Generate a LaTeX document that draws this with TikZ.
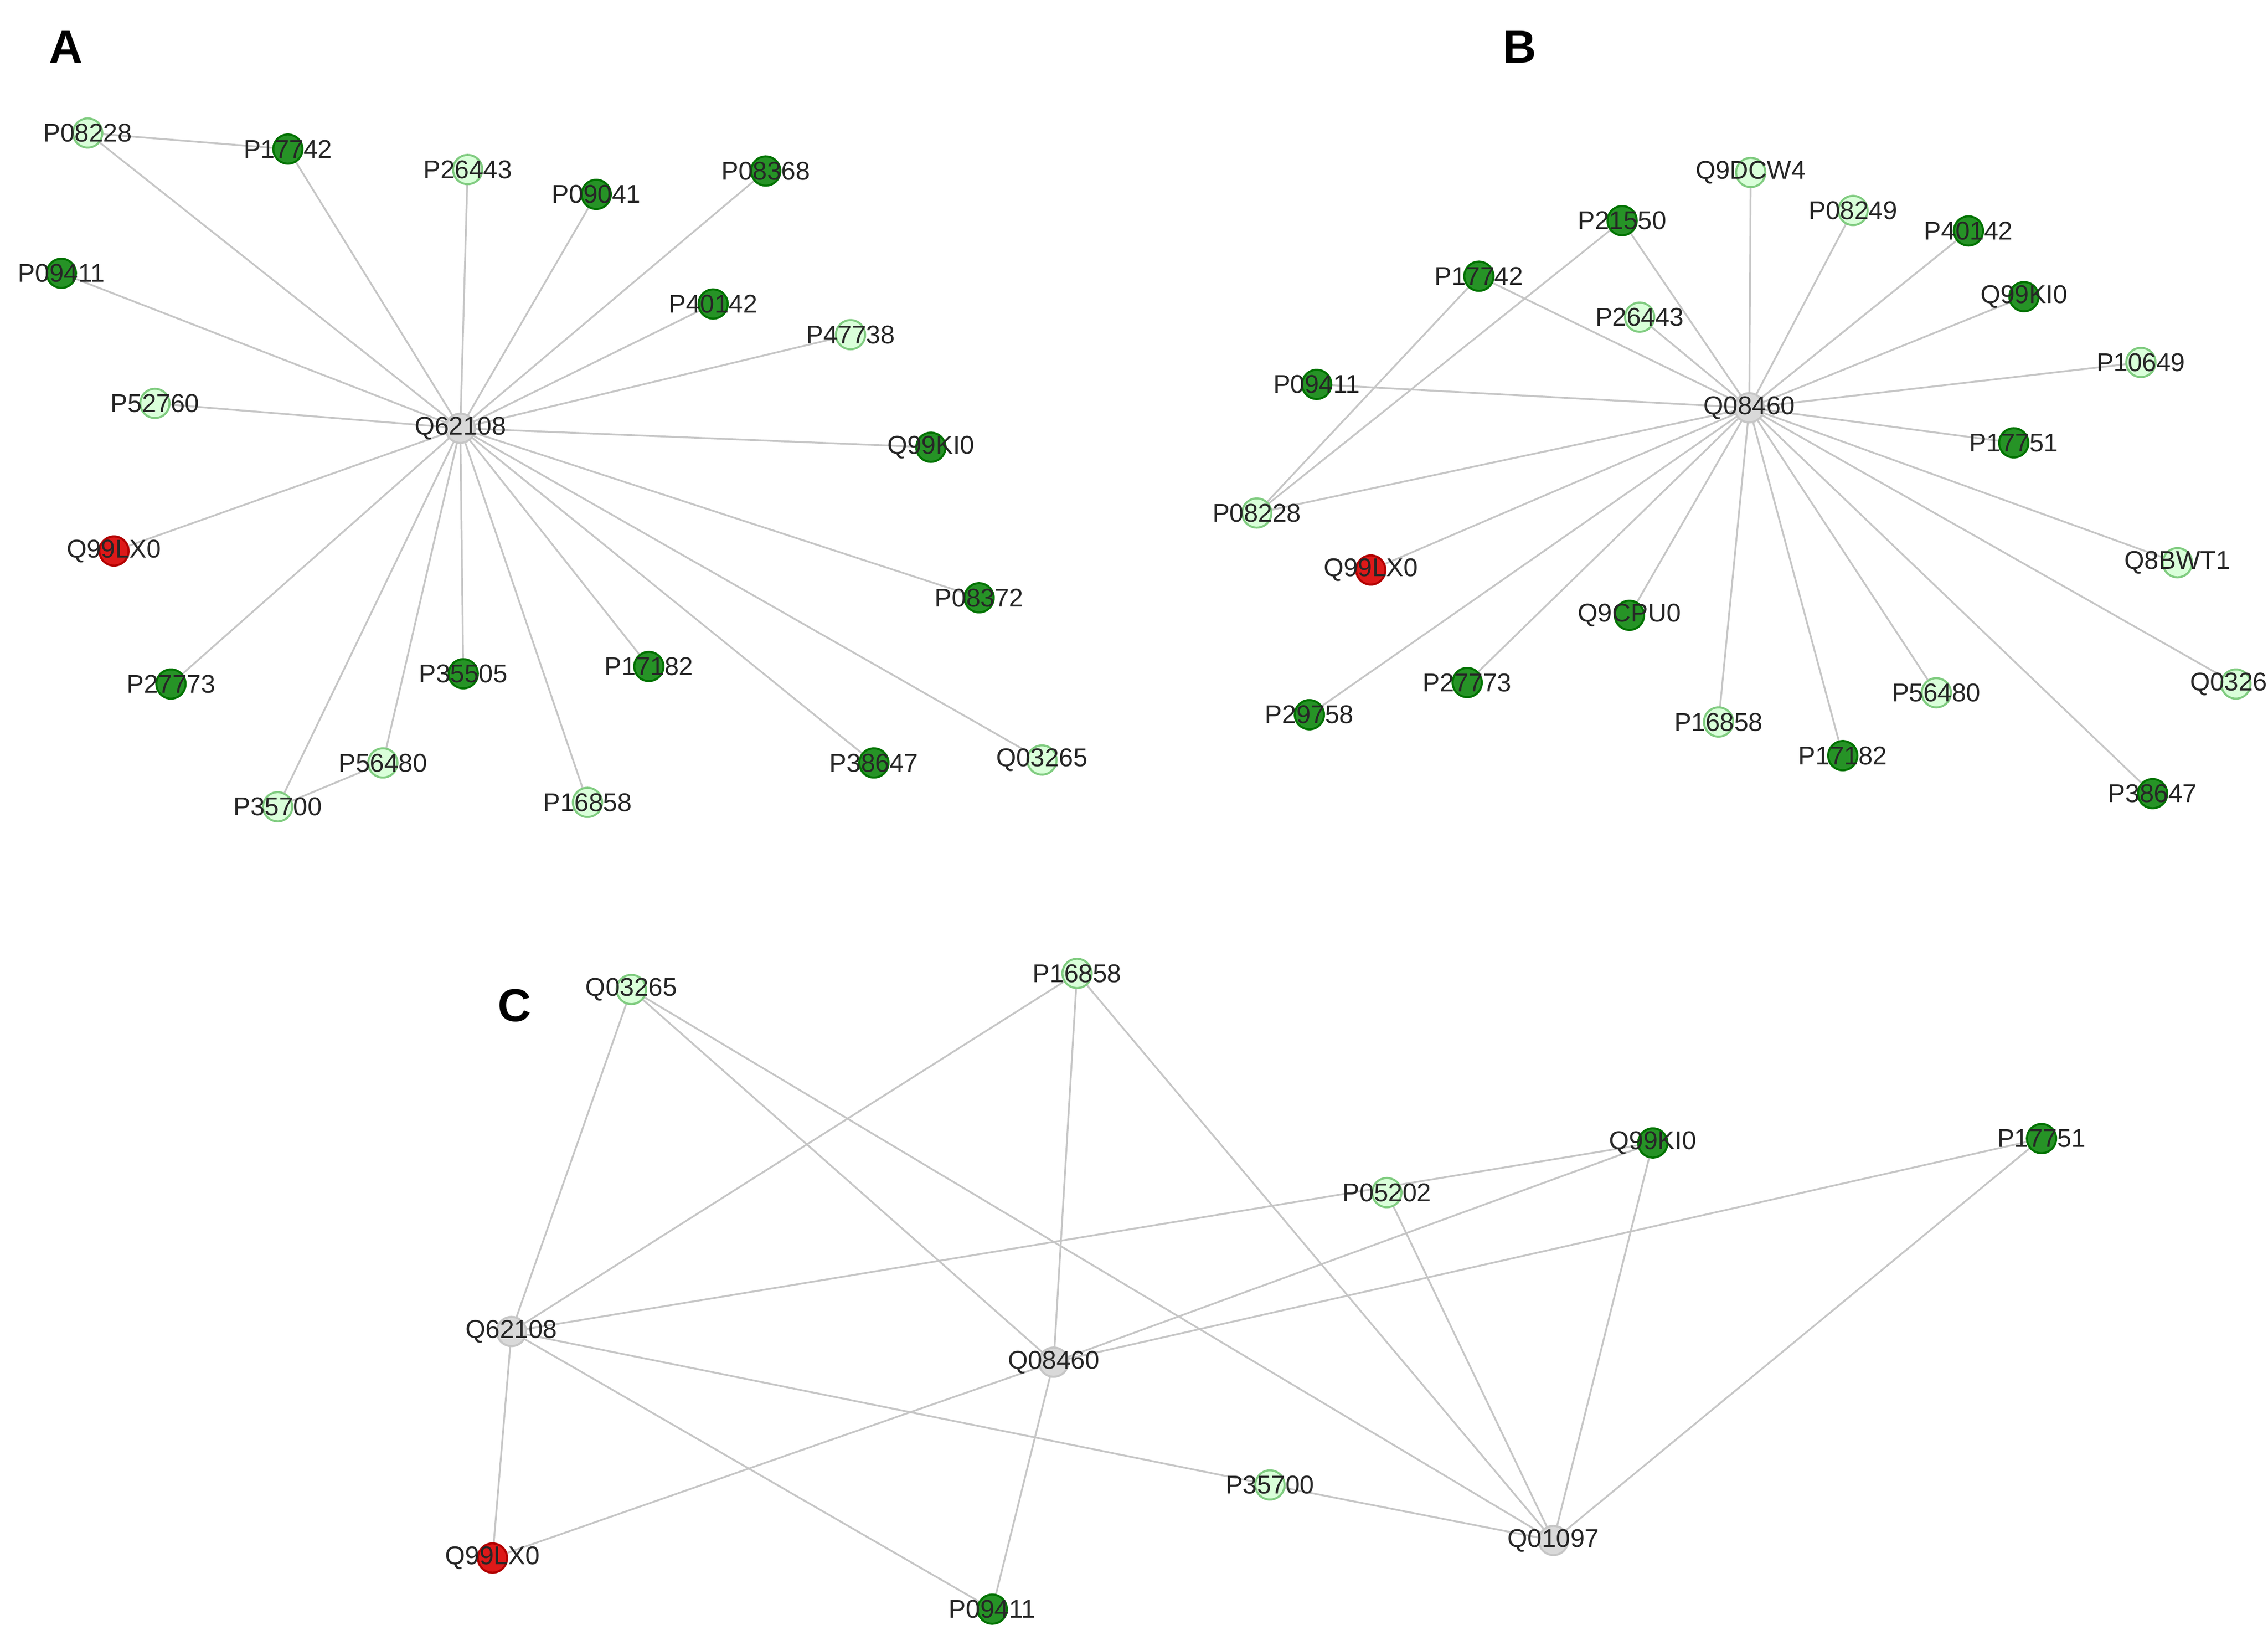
\documentclass[tikz,border=0pt]{standalone}
\usepackage{fontspec}
\setmainfont{Liberation Sans}
\begin{document}
\begin{tikzpicture}[x=0.01cm,y=-0.01cm,
  nd/.style={circle,minimum size=0.2cm,inner sep=0pt,line width=0.4pt},
  dk/.style={nd,fill=green!50!black!85,draw=green!45!black},
  lt/.style={nd,fill=green!15,draw=green!60!black!50},
  gy/.style={nd,fill=gray!30,draw=gray!45},
  rd/.style={nd,fill=red!85!black!90,draw=red!70!black},
  lab/.style={font=\fontsize{5}{6}\selectfont,text=black!85},
  ed/.style={draw=gray!45,line width=0.35pt},
  pl/.style={font=\fontsize{9}{10}\selectfont\bfseries}]
\useasboundingbox (0,0) rectangle (1552,1115);
\clip (0,0) rectangle (1552,1115);
\fill[white] (0,0) rectangle (1552,1115);
\newcommand\nd[5]{\node[#4] (#1) at (#2,#3) {}; \node[lab] at (#2,#3) {#5};}
\newcommand\ndc[4]{\coordinate (#1) at (#2,#3);}
% panel labels
\node[pl] (LA) at (45,32) {A};
\node[pl] (LB) at (1040,32) {B};
\node[pl] (LC) at (352,688) {C};
% ---------- A: edges first (coordinates) ----------
\foreach \n/\x/\y in {ac/315/293,a1/60/91,a2/197/102,a3/320/116,a4/408/133,a5/524/117,a6/42/187,a7/488/208,a8/582/229,a9/106/276,a10/637/306,a11/78/377,a12/670/409,a13/117/468,a14/317/461,a15/444/456,a16/262/522,a17/190/552,a18/402/549,a19/598/522,a20/713/520}{\coordinate (\n) at (\x,\y);}
\foreach \i in {1,...,20}{\draw[ed] (ac) -- (a\i);}
\draw[ed] (a1) -- (a2); \draw[ed] (a16) -- (a17);
% ---------- B ----------
\foreach \n/\x/\y in {bc/1197/279,b1/1198/118,b2/1268/144,b3/1347/158,b4/1110/151,b5/1385/203,b6/1012/189,b7/1122/217,b8/1465/248,b9/901/263,b10/1378/303,b11/860/351,b12/938/390,b13/1490/385,b14/1115/421,b15/896/489,b16/1004/467,b17/1176/494,b18/1325/474,b19/1261/517,b20/1530/468,b21/1473/543}{\coordinate (\n) at (\x,\y);}
\foreach \i in {1,...,21}{\draw[ed] (bc) -- (b\i);}
\draw[ed] (b11) -- (b6); \draw[ed] (b11) -- (b4);
% ---------- C ----------
\foreach \n/\x/\y in {c1/432/677,c2/737/666,c3/1131/782,c4/1397/779,c5/949/816,c6/350/911,c7/721/932,c8/869/1016,c9/1063/1054,c10/337/1066,c11/679/1101}{\coordinate (\n) at (\x,\y);}
\foreach \a/\b in {c1/c6,c1/c7,c1/c9,c2/c6,c2/c7,c2/c9,c6/c3,c5/c9,c7/c3,c7/c4,c3/c9,c4/c9,c6/c10,c6/c11,c6/c8,c8/c9,c7/c10,c7/c11}{\draw[ed] (\a) -- (\b);}
% ---------- nodes ----------
\nd{A0}{315}{293}{gy}{Q62108}
\nd{A1}{60}{91}{lt}{P08228}
\nd{A2}{197}{102}{dk}{P17742}
\nd{A3}{320}{116}{lt}{P26443}
\nd{A4}{408}{133}{dk}{P09041}
\nd{A5}{524}{117}{dk}{P08368}
\nd{A6}{42}{187}{dk}{P09411}
\nd{A7}{488}{208}{dk}{P40142}
\nd{A8}{582}{229}{lt}{P47738}
\nd{A9}{106}{276}{lt}{P52760}
\nd{A10}{637}{306}{dk}{Q99KI0}
\nd{A11}{78}{377}{rd}{Q99LX0}
\nd{A12}{670}{409}{dk}{P08372}
\nd{A13}{117}{468}{dk}{P27773}
\nd{A14}{317}{461}{dk}{P35505}
\nd{A15}{444}{456}{dk}{P17182}
\nd{A16}{262}{522}{lt}{P56480}
\nd{A17}{190}{552}{lt}{P35700}
\nd{A18}{402}{549}{lt}{P16858}
\nd{A19}{598}{522}{dk}{P38647}
\nd{A20}{713}{520}{lt}{Q03265}
\nd{B0}{1197}{279}{gy}{Q08460}
\nd{B1}{1198}{118}{lt}{Q9DCW4}
\nd{B2}{1268}{144}{lt}{P08249}
\nd{B3}{1347}{158}{dk}{P40142}
\nd{B4}{1110}{151}{dk}{P21550}
\nd{B5}{1385}{203}{dk}{Q99KI0}
\nd{B6}{1012}{189}{dk}{P17742}
\nd{B7}{1122}{217}{lt}{P26443}
\nd{B8}{1465}{248}{lt}{P10649}
\nd{B9}{901}{263}{dk}{P09411}
\nd{B10}{1378}{303}{dk}{P17751}
\nd{B11}{860}{351}{lt}{P08228}
\nd{B12}{938}{390}{rd}{Q99LX0}
\nd{B13}{1490}{385}{lt}{Q8BWT1}
\nd{B14}{1115}{421}{dk}{Q9CPU0}
\nd{B15}{896}{489}{dk}{P29758}
\nd{B16}{1004}{467}{dk}{P27773}
\nd{B17}{1176}{494}{lt}{P16858}
\nd{B18}{1325}{474}{lt}{P56480}
\nd{B19}{1261}{517}{dk}{P17182}
\nd{B20}{1530}{468}{lt}{Q03265}
\nd{B21}{1473}{543}{dk}{P38647}
\nd{C1}{432}{677}{lt}{Q03265}
\nd{C2}{737}{666}{lt}{P16858}
\nd{C3}{1131}{782}{dk}{Q99KI0}
\nd{C4}{1397}{779}{dk}{P17751}
\nd{C5}{949}{816}{lt}{P05202}
\nd{C6}{350}{911}{gy}{Q62108}
\nd{C7}{721}{932}{gy}{Q08460}
\nd{C8}{869}{1016}{lt}{P35700}
\nd{C9}{1063}{1054}{gy}{Q01097}
\nd{C10}{337}{1066}{rd}{Q99LX0}
\nd{C11}{679}{1101}{dk}{P09411}
\end{tikzpicture}
\end{document}
